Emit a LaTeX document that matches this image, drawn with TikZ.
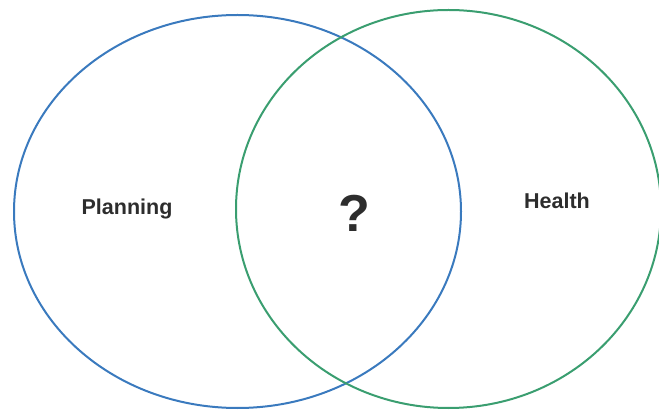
\documentclass[tikz,border=0pt]{standalone}
\usepackage{fontspec}
\setmainfont{Liberation Sans}
\usepackage{tikz}
\definecolor{planblue}{RGB}{58,122,190}
\definecolor{healthgreen}{RGB}{58,158,112}
\definecolor{labelgray}{RGB}{45,45,45}

\begin{document}
\begin{tikzpicture}[x=1pt,y=1pt]
        \useasboundingbox (0,0) rectangle (659,410);
        \clip (0,0) rectangle (659,410);
        \draw[line width=2pt,planblue] (237.5,198.5) ellipse (223.5 and 196.5);
        \draw[line width=2pt,healthgreen] (448.5,201) ellipse (212.5 and 199);
        \node[anchor=base,text=labelgray,font=\bfseries\fontsize{21.5}{26}\selectfont] (planning) at (127,195) {Planning};
        \node[anchor=base,text=labelgray,font=\bfseries\fontsize{21.5}{26}\selectfont] (health) at (557,201) {Health};
        \node[anchor=base,text=labelgray,font=\bfseries\fontsize{52}{60}\selectfont] (overlap) at (354,178) {?};
      \end{tikzpicture}
\end{document}
